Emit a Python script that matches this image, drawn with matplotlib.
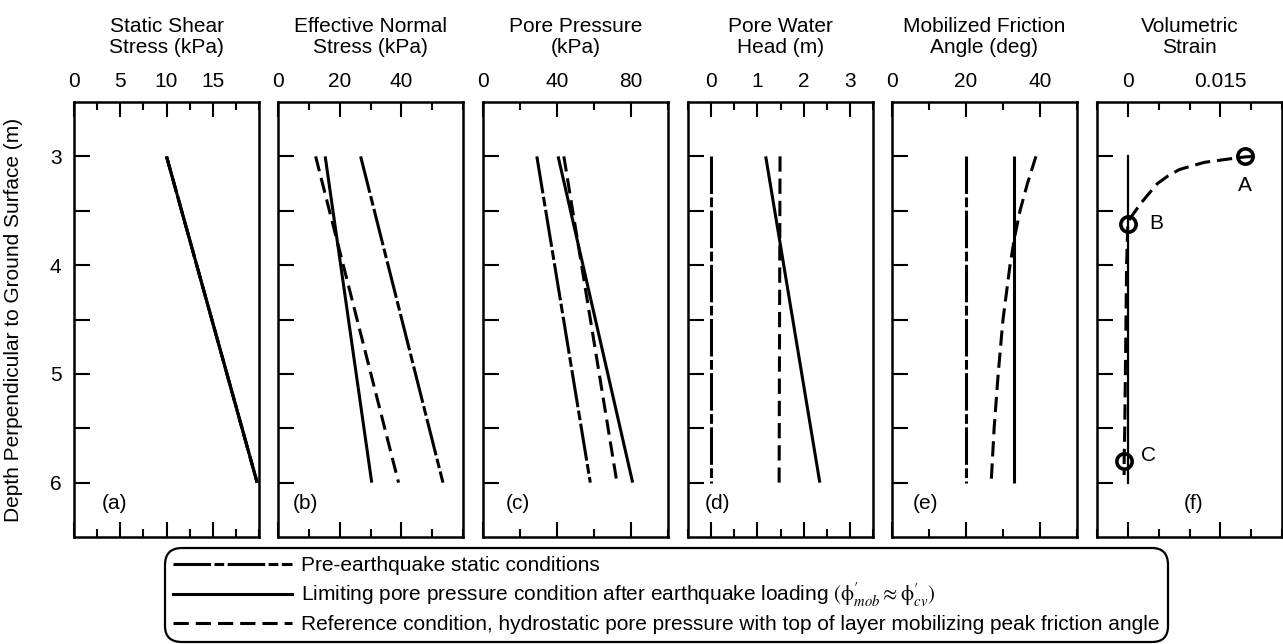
import matplotlib
matplotlib.use("Agg")
import matplotlib.pyplot as plt
from matplotlib.ticker import FixedLocator, MultipleLocator, FuncFormatter
from matplotlib.lines import Line2D

plt.rcParams['font.family'] = ['Liberation Sans', 'DejaVu Sans']
plt.rcParams['mathtext.fontset'] = 'stix'
plt.rcParams['lines.scale_dashes'] = False

# depths (m) at top and bottom of layer
depth = [3.0, 6.0]

# (a) static shear stress (kPa), same for all conditions
shear = [10.0, 19.8]

# (b) effective normal stress (kPa)
sigma_static = [26.8, 53.5]
sigma_limit = [15.3, 30.4]
sigma_ref = [12.2, 39.1]

# (c) pore pressure (kPa)
u_static = [29.1, 58.0]
u_limit = [40.6, 80.9]
u_ref = [43.7, 72.4]

# (d) pore water head (m)
head_static = [0.0, 0.0]
head_limit = [1.18, 2.35]
head_ref = [1.49, 1.47]

# (e) mobilized friction angle (deg)
phi_static = [20.0, 20.0]
phi_limit = [33.0, 33.0]
phi_ref_depth = [3.0, 3.25, 3.5, 3.75, 4.0, 4.5, 5.0, 5.5, 6.0]
phi_ref = [38.9, 36.6, 34.6, 33.1, 31.9, 30.0, 28.7, 27.6, 26.8]

# (f) volumetric strain
strain_limit = [0.0, 0.0]
strain_ref_depth = [3.0, 3.005, 3.02, 3.055, 3.12, 3.18, 3.25, 3.35, 3.44, 3.6, 4.0, 5.0, 5.5, 5.8, 5.93]
strain_ref = [0.0205, 0.019, 0.0169, 0.0124, 0.0084, 0.0065, 0.0048, 0.0033, 0.0020, 0.0,
              -0.0002, -0.0004, -0.0005, -0.0006, -0.0006]
pt_names = ['A', 'B', 'C']
pt_strain = [0.019, 0.0, -0.0006]
pt_depth = [3.0, 3.62, 5.8]

titles = ['Static Shear\nStress (kPa)', 'Effective Normal\nStress (kPa)', 'Pore Pressure\n(kPa)',
          'Pore Water\nHead (m)', 'Mobilized Friction\nAngle (deg)', 'Volumetric\nStrain']
panel_tags = ['(a)', '(b)', '(c)', '(d)', '(e)', '(f)']
xlims = [(0, 20), (0, 60), (0, 100), (-0.5, 3.5), (0, 50), (-0.005, 0.025)]
major_ticks = [[0, 5, 10, 15], [0, 20, 40], [0, 40, 80], [0, 1, 2, 3], [0, 20, 40], [0, 0.015]]
major_labels = [['0', '5', '10', '15'], ['0', '20', '40'], ['0', '40', '80'],
                ['0', '1', '2', '3'], ['0', '20', '40'], ['0', '0.015']]
minor_steps = [2.5, 10, 20, 0.5, 10, 0.005]
tag_x = [0.22, 0.15, 0.19, 0.16, 0.18, 0.52]

W, H = 1283, 644
fig = plt.figure(figsize=(W / 100, H / 100), dpi=100)

lefts = [74, 278, 483, 688, 892, 1097]
ax_w = 185
ax_top, ax_bot = 102, 537

LW = 2.2
DASHDOT = (0, (27, 2.5, 7, 2.5))
DASHED = (0, (11, 5))
FS = 15

axes = []
for i, left in enumerate(lefts):
    ax = fig.add_axes([left / W, 1 - ax_bot / H, ax_w / W, (ax_bot - ax_top) / H])
    axes.append(ax)
    ax.set_xlim(*xlims[i])
    ax.set_ylim(6.5, 2.5)
    for s in ax.spines.values():
        s.set_linewidth(1.8)
    ax.xaxis.set_major_locator(FixedLocator(major_ticks[i]))
    ax.set_xticklabels(major_labels[i])
    ax.xaxis.set_minor_locator(MultipleLocator(minor_steps[i]))
    ax.tick_params(axis='x', which='both', direction='in', top=True, bottom=True,
                   labeltop=True, labelbottom=False, width=1.5, labelsize=FS, pad=8)
    ax.tick_params(axis='x', which='major', length=11)
    ax.tick_params(axis='x', which='minor', length=6)
    ax.yaxis.set_major_locator(FixedLocator([3, 3.5, 4, 4.5, 5, 5.5, 6]))
    ax.tick_params(axis='y', which='both', direction='in', left=True, right=False,
                   width=1.5, length=11.5, labelsize=FS, pad=9)
    if i == 0:
        ax.yaxis.set_major_formatter(FuncFormatter(lambda v, p: '%d' % v if v == int(v) else ''))
    else:
        ax.set_yticklabels([])
    ax.text(0.5, 1 + 65 / (ax_bot - ax_top), titles[i], transform=ax.transAxes,
            ha='center', va='center', fontsize=FS, linespacing=1.15)
    ax.text(tag_x[i], 0.078, panel_tags[i], transform=ax.transAxes,
            ha='center', va='center', fontsize=FS)

k = dict(color='black', lw=LW, solid_capstyle='butt', dash_capstyle='butt')

ax = axes[0]
ax.plot(shear, depth, ls=DASHDOT, **k)
ax.plot(shear, depth, ls=DASHED, **k)
ax.plot(shear, depth, ls='-', **k)

ax = axes[1]
ax.plot(sigma_static, depth, ls=DASHDOT, **k)
ax.plot(sigma_limit, depth, ls='-', **k)
ax.plot(sigma_ref, depth, ls=DASHED, **k)

ax = axes[2]
ax.plot(u_static, depth, ls=DASHDOT, **k)
ax.plot(u_limit, depth, ls='-', **k)
ax.plot(u_ref, depth, ls=DASHED, **k)

ax = axes[3]
ax.plot(head_static, depth, ls=DASHDOT, **k)
ax.plot(head_limit, depth, ls='-', **k)
ax.plot(head_ref, depth, ls=DASHED, **k)

ax = axes[4]
ax.plot(phi_static, depth, ls=DASHDOT, **k)
ax.plot(phi_limit, depth, ls='-', **k)
ax.plot(phi_ref, phi_ref_depth, ls=DASHED, **k)

ax = axes[5]
ax.plot(strain_limit, depth, ls='-', color='black', lw=1.6)
ax.plot(strain_ref, strain_ref_depth, ls=DASHED, **k)
ax.plot(pt_strain, pt_depth, 'o', ms=11, mfc='none', mec='black', mew=2.6)
ax.text(pt_strain[0], pt_depth[0] + 0.27, pt_names[0], ha='center', va='center', fontsize=FS)
ax.text(pt_strain[1] + 0.0035, pt_depth[1], pt_names[1], ha='left', va='center', fontsize=FS)
ax.text(pt_strain[2] + 0.0028, pt_depth[2] - 0.05, pt_names[2], ha='left', va='center', fontsize=FS)

fig.text(14 / W, 1 - 319.5 / H, 'Depth Perpendicular to Ground Surface (m)', rotation=90,
         ha='center', va='center', fontsize=FS)

legend_labels = ['Pre-earthquake static conditions',
                 r"Limiting pore pressure condition after earthquake loading "
                 r"$(\mathrm{\phi}^{\prime}_{mob} \approx \mathrm{\phi}^{\prime}_{cv})$",
                 'Reference condition, hydrostatic pore pressure with top of layer mobilizing peak friction angle']
handles = [Line2D([], [], color='black', lw=LW, ls=DASHDOT),
           Line2D([], [], color='black', lw=LW, ls='-'),
           Line2D([], [], color='black', lw=LW, ls=DASHED)]
leg = fig.legend(handles, legend_labels, loc='upper left', bbox_to_anchor=(165 / W, 1 - 548 / H),
                 fontsize=FS, handlelength=5.7, handletextpad=0.45, labelspacing=0.3,
                 borderpad=0.4, borderaxespad=0, frameon=True, fancybox=True)
fr = leg.get_frame()
fr.set_edgecolor('black')
fr.set_linewidth(1.6)
fr.set_alpha(1)
fr.set_boxstyle('round,pad=0,rounding_size=0.8')

fig.savefig('out.png', dpi=100)
